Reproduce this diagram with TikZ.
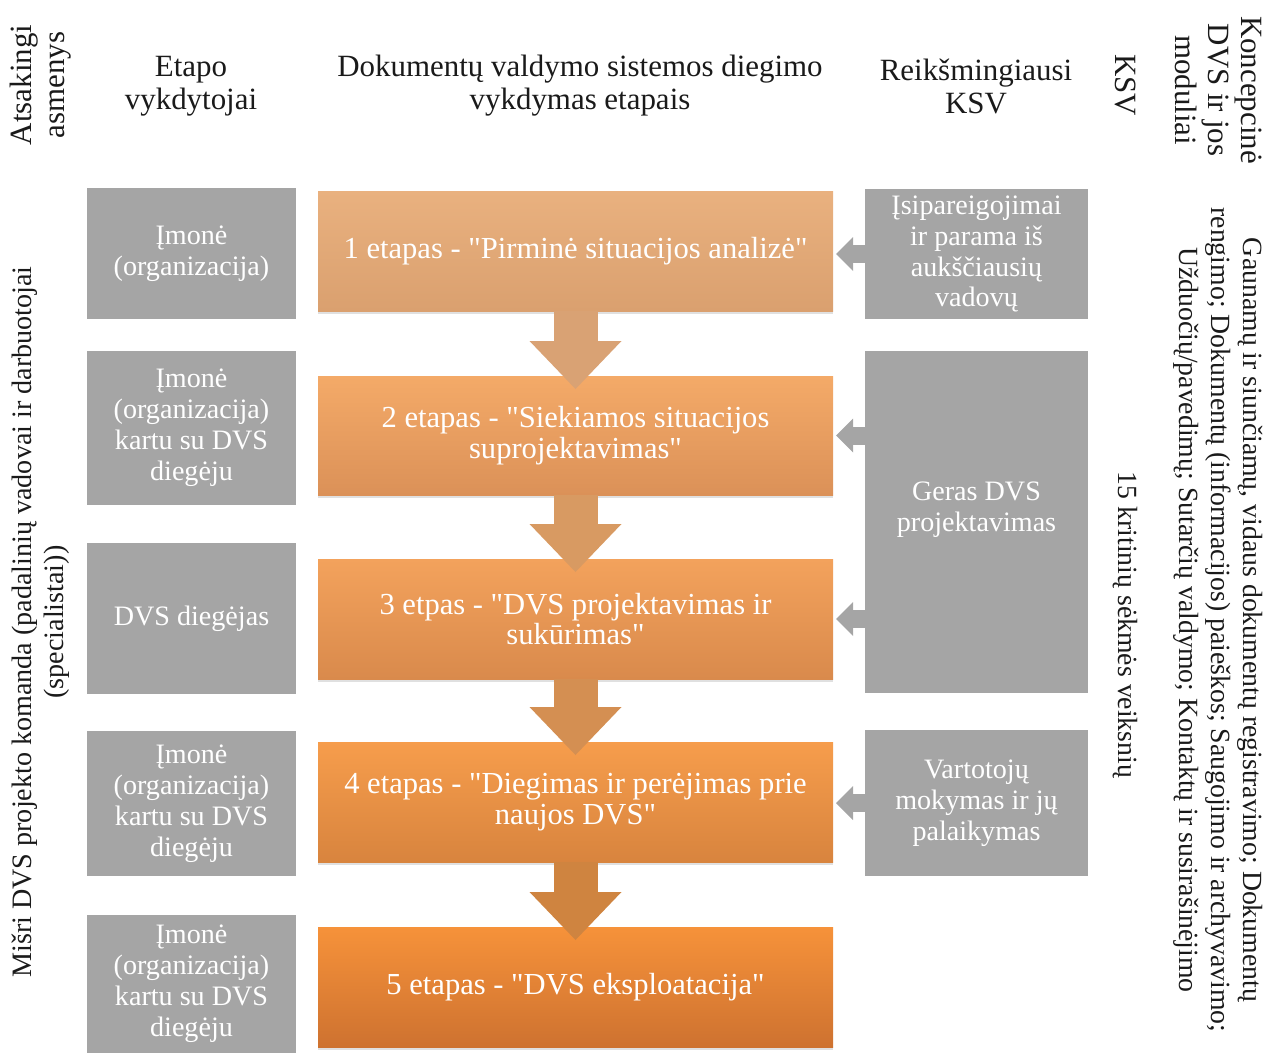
\documentclass[tikz,border=0pt]{standalone}
\usepackage{fontspec}
\newfontfamily\ltfont{Liberation Serif}
\usetikzlibrary{arrows.meta,shadows}
\definecolor{cGray}{HTML}{A5A5A5}
\definecolor{cInk}{HTML}{1A1A1A}
\definecolor{cT1}{HTML}{E9B17F}\definecolor{cB1}{HTML}{DAA06F}
\definecolor{cT2}{HTML}{F4AA68}\definecolor{cB2}{HTML}{DB9158}
\definecolor{cT3}{HTML}{F3A25C}\definecolor{cB3}{HTML}{D98A4C}
\definecolor{cT4}{HTML}{F69D4C}\definecolor{cB4}{HTML}{D8843E}
\definecolor{cT5}{HTML}{F6923A}\definecolor{cB5}{HTML}{CE7230}
\definecolor{cA1}{HTML}{D9A274}
\definecolor{cA2}{HTML}{D89A62}
\definecolor{cA3}{HTML}{D48F52}
\definecolor{cA4}{HTML}{CF8440}
\tikzset{
  body/.style={font=\ltfont\fontsize{16}{17.6}\selectfont},
  stagefont/.style={font=\ltfont\fontsize{17.4}{17.6}\selectfont},
  head/.style={font=\ltfont\fontsize{17.6}{18.8}\selectfont,align=center,text=cInk},
  side/.style={font=\ltfont\fontsize{15.8}{18.2}\selectfont,align=center,text=cInk},
  sz/.style 2 args={minimum width=#1*0.02cm,minimum height=#2*0.02cm},
  grbox/.style={body,fill=cGray,text=white,align=center,inner sep=2pt,outer sep=0pt},
  stage/.style 2 args={stagefont,text=white,align=center,inner sep=2pt,outer sep=0pt,
     top color=#1,bottom color=#2,
     drop shadow={shadow xshift=0pt,shadow yshift=-1.5pt,opacity=.12,fill=black}},
  dn/.style={line width=0.88cm,-{Triangle[width=1.84cm,length=0.96cm,line width=0pt]}},
  lt/.style={cGray,line width=0.36cm,-{Triangle[width=0.68cm,length=0.34cm,line width=0pt]},
     shorten >=0.06cm},
}

\begin{document}
\begin{tikzpicture}[x=0.02cm,y=-0.02cm]
\useasboundingbox (0,0) rectangle (1273,1055);
% headers
\node[head,rotate=90] (hA) at (41,85) {Atsakingi\\asmenys};
\node[head] (hE) at (191,86) {Etapo\\vykdytojai};
\node[head] (hD) at (580,86) {Dokumentų valdymo sistemos diegimo\\vykdymas etapais};
\node[head] (hR) at (976,86) {Reikšmingiausi\\KSV};
\node[head,rotate=-90] (hK) at (1125,85) {KSV};
\node[head,rotate=-90] (hM) at (1219,90) {Koncepcinė\\DVS ir jos\\moduliai};
% performers
\node[grbox,sz={209}{131}] (e1) at (191.5,253.5) {Įmonė\\(organizacija)};
\node[grbox,sz={209}{154}] (e2) at (191.5,428) {Įmonė\\(organizacija)\\kartu su DVS\\diegėju};
\node[grbox,sz={209}{151}] (e3) at (191.5,618.5) {DVS diegėjas};
\node[grbox,sz={209}{145}] (e4) at (191.5,803.5) {Įmonė\\(organizacija)\\kartu su DVS\\diegėju};
\node[grbox,sz={209}{138}] (e5) at (191.5,984) {Įmonė\\(organizacija)\\kartu su DVS\\diegėju};
% stages
\node[stage={cT1}{cB1},sz={515}{120}] (s1) at (575.5,251)
  {1 etapas - "Pirminė situacijos analizė"};
\node[stage={cT2}{cB2},sz={515}{119}] (s2) at (575.5,435.5)
  {2 etapas - "Siekiamos situacijos\\suprojektavimas"};
\node[stage={cT3}{cB3},sz={515}{120}] (s3) at (575.5,619)
  {3 etpas - "DVS projektavimas ir\\sukūrimas"};
\node[stage={cT4}{cB4},sz={515}{120}] (s4) at (575.5,802)
  {4 etapas - "Diegimas ir perėjimas prie\\naujos DVS"};
\node[stage={cT5}{cB5},sz={515}{120}] (s5) at (575.5,987)
  {5 etapas - "DVS eksploatacija"};
\draw[dn,cA1] (s1.south) -- ([yshift=-0.26cm]s2.north);
\draw[dn,cA2] (s2.south) -- ([yshift=-0.26cm]s3.north);
\draw[dn,cA3] (s3.south) -- ([yshift=-0.26cm]s4.north);
\draw[dn,cA4] (s4.south) -- ([yshift=-0.26cm]s5.north);
% success factors
\node[grbox,sz={223}{130}] (r1) at (976.5,254) {Įsipareigojimai\\ir parama iš\\aukščiausių\\vadovų};
\node[grbox,sz={223}{342},text depth=0.6cm] (r2) at (976.5,522) {Geras DVS\\projektavimas};
\node[grbox,sz={223}{146}] (r3) at (976.5,803) {Vartotojų\\mokymas ir jų\\palaikymas};
\draw[lt] (r1.west) -- (r1.west -| s1.east);
\draw[lt] (r2.west |- s2.east) -- (s2.east);
\draw[lt] (r2.west |- s3.east) -- (s3.east);
\draw[lt] (r3.west) -- (r3.west -| s4.east);
% side texts
\node[head,font=\ltfont\fontsize{16}{18.4}\selectfont,rotate=90] (tm) at (41,622)
  {Mišri DVS projekto komanda (padalinių vadovai ir darbuotojai\\(specialistai))};
\node[side,rotate=-90] (tk) at (1125,625) {15 kritinių sėkmės veiksnių};
\node[side,rotate=-90] (tg) at (1218,620)
  {Gaunamų ir siunčiamų, vidaus dokumentų registravimo; Dokumentų\\
   rengimo; Dokumentų (informacijos) paieškos; Saugojimo ir archyvavimo;\\
   Užduočių/pavedimų; Sutarčių valdymo; Kontaktų ir susirašinėjimo};
\end{tikzpicture}
\end{document}
